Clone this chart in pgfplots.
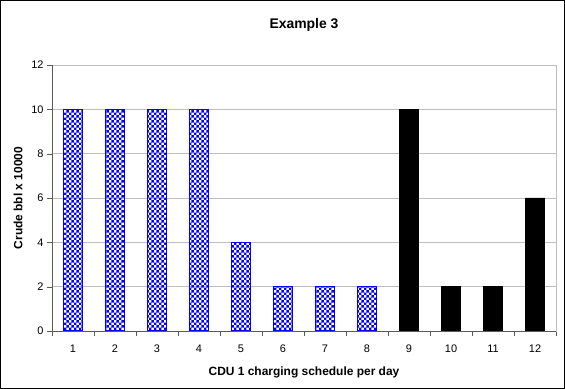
\documentclass[border=0pt]{standalone}
\usepackage{fontspec}
\setmainfont{Liberation Sans}
\usepackage{pgfplots}
\pgfplotsset{compat=1.18}
\usetikzlibrary{patterns}

% blue-and-white checkerboard fill for the first unit's bars
\pgfdeclarepatternformonly{checks}{\pgfpointorigin}{\pgfqpoint{5.4bp}{5.4bp}}{\pgfqpoint{5.4bp}{5.4bp}}{%
  \pgfpathrectangle{\pgfpointorigin}{\pgfqpoint{2.7bp}{2.7bp}}%
  \pgfpathrectangle{\pgfqpoint{2.7bp}{2.7bp}}{\pgfqpoint{2.7bp}{2.7bp}}%
  \pgfusepath{fill}}

\definecolor{gridgray}{RGB}{190,190,190}
\definecolor{axisgray}{RGB}{90,90,90}

\begin{document}
\begin{tikzpicture}
\begin{axis}[
  name=ax,
  at={(0,0)}, anchor=south west,
  scale only axis,
  width=504bp, height=266bp,
  xmin=0.5, xmax=12.5,
  ymin=0, ymax=12,
  ytick={0,2,...,12},
  xtick={1,...,12},
  minor xtick={0.5,1.5,...,12.5},
  major x tick style={draw=none},
  minor x tick style={axisgray},
  minor tick length=5bp,
  major tick length=5bp,
  tick align=outside,
  y tick style={axisgray},
  xtick pos=bottom, ytick pos=left,
  ymajorgrids,
  grid style={gridgray, line width=0.8pt},
  axis line style={gridgray, line width=0.8pt},
  tick label style={font=\fontsize{11}{12}\selectfont},
  /pgf/number format/assume math mode=true,
  xticklabel style={anchor=center, yshift=-13bp},
  title={\bfseries Example 3},
  title style={font=\fontsize{14}{16}\selectfont, at={(0.5,1)}, anchor=center, yshift=34bp},
  xlabel={\bfseries CDU 1 charging schedule per day},
  ylabel={\bfseries Crude bbl x 10000},
  xlabel style={font=\fontsize{12}{14}\selectfont, at={(0.5,0)}, anchor=center, yshift=-41bp},
  ylabel style={font=\fontsize{12}{14}\selectfont, at={(0,0.5)}, anchor=center, yshift=34bp},
  ybar, bar width=19bp,
  clip=false,
]
\addplot[bar shift=0pt, draw=blue, line width=1.6pt, pattern=checks, pattern color=blue]
  coordinates {(1,10) (2,10) (3,10) (4,10) (5,4) (6,2) (7,2) (8,2)};
\addplot[bar shift=0pt, draw=black, fill=black]
  coordinates {(9,10) (10,2) (11,2) (12,6)};
\draw[axisgray, line width=0.8pt] (rel axis cs:0,1) -- (rel axis cs:0,0) -- (rel axis cs:1,0);
\end{axis}
\draw[black, line width=0.8pt] (-52bp+0.4pt,-58bp+0.4pt) rectangle (513bp-0.4pt,331bp-0.4pt);
\useasboundingbox (-52bp,-58bp) rectangle (513bp,331bp);
\end{tikzpicture}
\end{document}
